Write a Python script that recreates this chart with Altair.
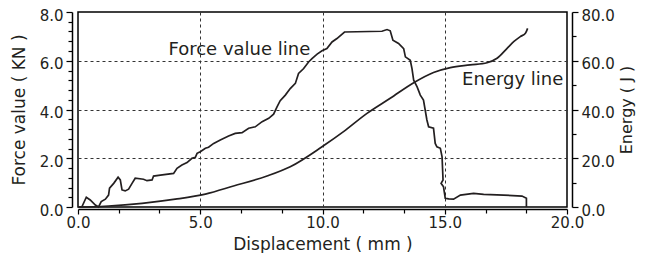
import altair as alt
import pandas as pd

# Force value line (Displacement mm, Force kN)
force_x = [0.00, 0.16, 0.34, 0.50, 0.71, 0.84, 0.95, 1.12, 1.25, 1.29, 1.46, 1.64, 1.73, 1.80,
           1.93, 2.07, 2.21, 2.34, 2.68, 2.82, 3.03, 3.09, 3.37, 3.91, 4.05, 4.25, 4.46, 4.66,
           4.80, 4.87, 5.00, 5.21, 5.34, 5.55, 5.82, 6.16, 6.43, 6.71, 6.98, 7.25, 7.53, 7.80,
           8.00, 8.14, 8.27, 8.48, 8.68, 8.89, 9.02, 9.23, 9.43, 9.57, 9.78, 9.98, 10.18, 10.39,
           10.59, 10.90, 12.43, 12.64, 12.77, 12.88, 13.11, 13.32, 13.39, 13.59, 13.66, 13.73,
           13.87, 14.00, 14.13, 14.20, 14.27, 14.34, 14.54, 14.61, 14.68, 14.82, 14.89, 14.93,
           14.85, 14.95, 15.02, 15.16, 15.36, 15.64, 16.18, 16.59, 17.41, 18.16, 18.34, 18.34]
force_y = [0.00, 0.01, 0.40, 0.29, 0.08, 0.00, 0.22, 0.32, 0.49, 0.77, 0.97, 1.22, 1.11, 0.70,
           0.66, 0.73, 0.97, 1.18, 1.14, 1.08, 1.11, 1.27, 1.31, 1.38, 1.59, 1.72, 1.82, 2.00,
           2.04, 2.20, 2.27, 2.41, 2.45, 2.61, 2.75, 2.91, 3.02, 3.05, 3.23, 3.29, 3.50, 3.64,
           3.81, 4.11, 4.36, 4.59, 4.86, 5.07, 5.48, 5.68, 5.95, 6.09, 6.27, 6.41, 6.50, 6.77,
           6.91, 7.18, 7.21, 7.28, 7.23, 6.84, 6.71, 6.50, 6.16, 6.02, 5.68, 5.20,
           4.93, 4.59, 4.39, 3.98, 3.57, 3.29, 3.23, 2.61, 2.47, 2.41, 2.06, 1.11,
           0.97, 0.83, 0.36, 0.33, 0.32, 0.49, 0.56, 0.52, 0.49, 0.45, 0.36, 0.00]

# Energy line (Displacement mm, Energy J)
energy_x = [0.00, 0.16, 1.25, 2.62, 3.98, 5.21, 6.36, 7.73, 8.68, 9.98, 10.86, 11.82, 12.77,
            13.73, 14.54, 15.23, 16.04, 16.73, 17.14, 17.55, 17.82, 18.09, 18.30, 18.39]
energy_y = [0.0, 0.0, 0.4, 1.5, 3.2, 5.3, 8.6, 12.7, 16.5, 24.7, 30.9, 38.4, 44.6,
            51.0, 55.2, 57.2, 58.3, 59.2, 61.0, 65.1, 67.8, 69.9, 71.3, 73.3]

# Annotations (text, displacement, force-axis value)
label_text = ["Force value line", "Energy line"]
label_x = [6.6, 19.85]
label_y = [6.43, 5.2]

x_tick_values = [round(i * 5 / 3, 4) for i in range(13)]
force_tick_values = [round(i * 0.4, 1) for i in range(21)]
energy_tick_values = [i * 10 for i in range(9)]

FONT = "DejaVu Sans"
LINE_COLOR = "#231f20"

force_df = pd.DataFrame({"disp": force_x, "force": force_y, "ord": list(range(len(force_x)))})
energy_df = pd.DataFrame({"disp": energy_x, "energy": energy_y, "ord": list(range(len(energy_x)))})
label_df = pd.DataFrame({"text": label_text, "disp": label_x, "force": label_y})

xscale = alt.Scale(domain=[0, 20], nice=False, zero=False)
fscale = alt.Scale(domain=[0, 8], nice=False, zero=False)
escale = alt.Scale(domain=[0, 80], nice=False, zero=False)

x_axis = alt.Axis(
    values=x_tick_values,
    title="Displacement ( mm )",
    labelExpr="abs(datum.value % 5) < 0.01 ? format(datum.value, '.1f') : ''",
    grid=True,
    gridOpacity={"condition": {"test": "abs(datum.value % 5) < 0.01 && datum.value > 0.1 && datum.value < 19.9", "value": 1}, "value": 0},
    tickSize={"condition": {"test": "abs(datum.value % 5) < 0.01", "value": 5}, "value": 4},
    offset=2,
    labelPadding=1,
    titlePadding=6,
    labelFlush=False,
    labelOverlap=False,
)

f_axis = alt.Axis(
    values=force_tick_values,
    title="Force value ( KN )",
    labelExpr="datum.value % 2 == 0 ? format(datum.value, '.1f') : ''",
    grid=True,
    gridOpacity={"condition": {"test": "datum.value % 2 == 0 && datum.value > 0.1 && datum.value < 7.9", "value": 1}, "value": 0},
    tickSize={"condition": {"test": "datum.value % 2 == 0", "value": 6}, "value": 4},
    offset=6,
    labelPadding=3,
    labelOffset=3,
    titlePadding=11,
    labelFlush=False,
    labelOverlap=False,
)

e_axis = alt.Axis(
    orient="right",
    values=energy_tick_values,
    title="Energy ( J )",
    titleAngle=270,
    titleBaseline="top",
    titleFontSize=16,
    labelExpr="datum.value % 20 == 0 ? format(datum.value, '.1f') : ''",
    grid=False,
    tickSize={"condition": {"test": "datum.value % 20 == 0", "value": 6}, "value": 4},
    offset=5,
    labelPadding=3,
    labelOffset=3,
    titlePadding=4,
    labelFlush=False,
    labelOverlap=False,
)

force_line = alt.Chart(force_df).mark_line(color=LINE_COLOR, strokeWidth=1.7).encode(
    x=alt.X("disp:Q", scale=xscale, axis=x_axis),
    y=alt.Y("force:Q", scale=fscale, axis=f_axis),
    order="ord:Q",
)

energy_line = alt.Chart(energy_df).mark_line(color=LINE_COLOR, strokeWidth=1.7, interpolate="monotone").encode(
    x=alt.X("disp:Q", scale=xscale),
    y=alt.Y("energy:Q", scale=escale, axis=e_axis),
    order="ord:Q",
)

label_force = alt.Chart(label_df.iloc[[0]]).mark_text(font=FONT, fontSize=18, color="#231f20", baseline="middle", align="center").encode(
    x=alt.X("disp:Q", scale=xscale),
    y=alt.Y("force:Q", scale=fscale, axis=None),
    text="text:N",
)
label_energy = alt.Chart(label_df.iloc[[1]]).mark_text(font=FONT, fontSize=18, color="#231f20", baseline="middle", align="right").encode(
    x=alt.X("disp:Q", scale=xscale),
    y=alt.Y("force:Q", scale=fscale, axis=None),
    text="text:N",
)

chart = alt.layer(force_line, energy_line, label_force, label_energy).resolve_scale(
    y="independent"
).properties(
    width=489,
    height=195,
    autosize=alt.AutoSizeParams(type="none"),
    padding={"left": 70, "top": 4, "right": 72, "bottom": 46},
).configure_view(
    stroke="#000000", strokeWidth=1.5
).configure_axis(
    labelFont=FONT, labelFontSize=15, labelColor="#231f20",
    titleFont=FONT, titleFontSize=17, titleFontWeight="normal", titleColor="#231f20",
    domainColor="#000000", domainWidth=1.5, tickColor="#000000", tickWidth=1.2,
    gridColor="#333333", gridDash=[3, 3], gridWidth=1,
)

chart.save("out.html", embed_options={"renderer": "svg", "actions": False})
